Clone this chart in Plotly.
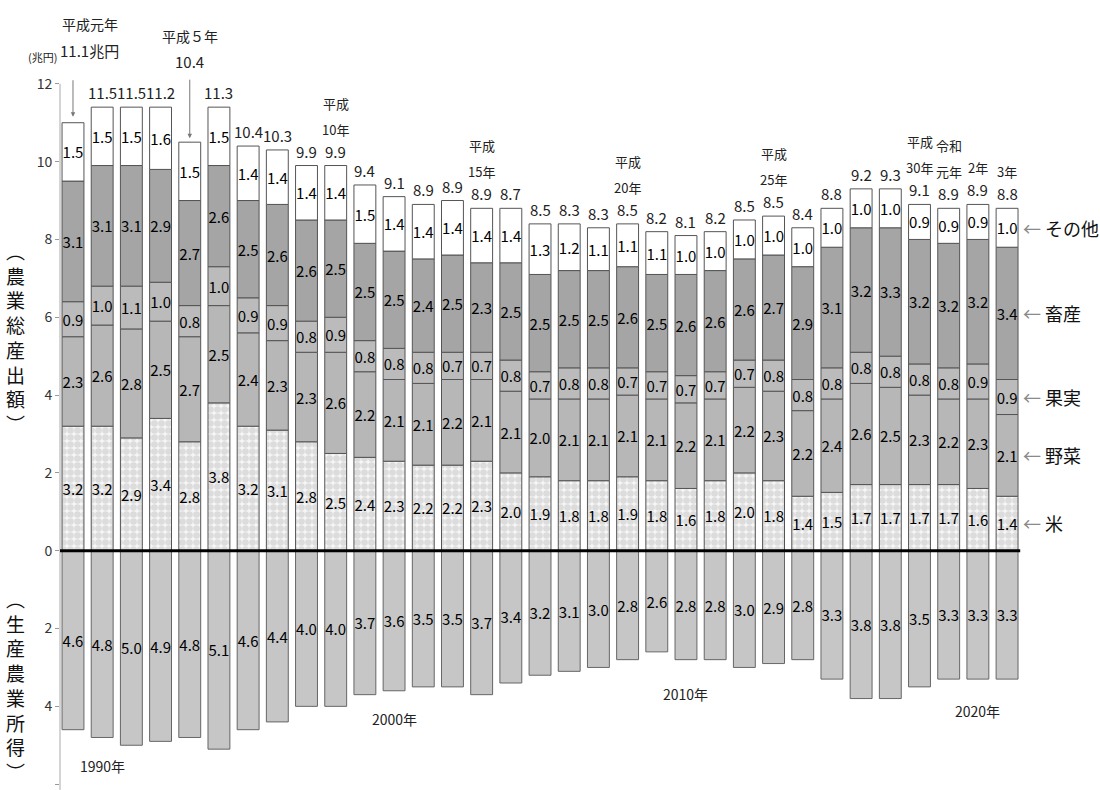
import plotly.graph_objects as go

# 農業総産出額と生産農業所得（兆円）
years = list(range(1989, 2022))

rice = [3.2, 3.2, 2.9, 3.4, 2.8, 3.8, 3.2, 3.1, 2.8, 2.5, 2.4, 2.3, 2.2, 2.2, 2.3, 2.0, 1.9,
        1.8, 1.8, 1.9, 1.8, 1.6, 1.8, 2.0, 1.8, 1.4, 1.5, 1.7, 1.7, 1.7, 1.7, 1.6, 1.4]
vegetables = [2.3, 2.6, 2.8, 2.5, 2.7, 2.5, 2.4, 2.3, 2.3, 2.6, 2.2, 2.1, 2.1, 2.2, 2.1, 2.1, 2.0,
              2.1, 2.1, 2.1, 2.1, 2.2, 2.1, 2.2, 2.3, 2.2, 2.4, 2.6, 2.5, 2.3, 2.2, 2.3, 2.1]
fruit = [0.9, 1.0, 1.1, 1.0, 0.8, 1.0, 0.9, 0.9, 0.8, 0.9, 0.8, 0.8, 0.8, 0.7, 0.7, 0.8, 0.7,
         0.8, 0.8, 0.7, 0.7, 0.7, 0.7, 0.7, 0.8, 0.8, 0.8, 0.8, 0.8, 0.8, 0.8, 0.9, 0.9]
livestock = [3.1, 3.1, 3.1, 2.9, 2.7, 2.6, 2.5, 2.6, 2.6, 2.5, 2.5, 2.5, 2.4, 2.5, 2.3, 2.5, 2.5,
             2.5, 2.5, 2.6, 2.5, 2.6, 2.6, 2.6, 2.7, 2.9, 3.1, 3.2, 3.3, 3.2, 3.2, 3.2, 3.4]
other = [1.5, 1.5, 1.5, 1.6, 1.5, 1.5, 1.4, 1.4, 1.4, 1.4, 1.5, 1.4, 1.4, 1.4, 1.4, 1.4, 1.3,
         1.2, 1.1, 1.1, 1.1, 1.0, 1.0, 1.0, 1.0, 1.0, 1.0, 1.0, 1.0, 0.9, 0.9, 0.9, 1.0]
totals = [11.1, 11.5, 11.5, 11.2, 10.4, 11.3, 10.4, 10.3, 9.9, 9.9, 9.4, 9.1, 8.9, 8.9, 8.9, 8.7,
          8.5, 8.3, 8.3, 8.5, 8.2, 8.1, 8.2, 8.5, 8.5, 8.4, 8.8, 9.2, 9.3, 9.1, 8.9, 8.9, 8.8]
income = [4.6, 4.8, 5.0, 4.9, 4.8, 5.1, 4.6, 4.4, 4.0, 4.0, 3.7, 3.6, 3.5, 3.5, 3.7, 3.4, 3.2,
          3.1, 3.0, 2.8, 2.6, 2.8, 2.8, 3.0, 2.9, 2.8, 3.3, 3.8, 3.8, 3.5, 3.3, 3.3, 3.3]

era_labels = {1998: ["平成", "10年"], 2003: ["平成", "15年"], 2008: ["平成", "20年"],
              2013: ["平成", "25年"], 2018: ["平成", "30年"], 2019: ["令和", "元年"],
              2020: ["2年"], 2021: ["3年"]}
decade_labels = {1990: "1990年", 2000: "2000年", 2010: "2010年", 2020: "2020年"}

FONT = "Noto Sans CJK JP"
EDGE = "#555555"
BAR_W = 0.75

fig = go.Figure()

segments = [
    ("米", rice, dict(color="#f2f2f2",
                     pattern=dict(shape=".", fgcolor="#c2c2c2", bgcolor="#f6f6f6",
                                  size=7, solidity=0.7))),
    ("野菜", vegetables, dict(color="#b7b7b7")),
    ("果実", fruit, dict(color="#bbbbbb")),
    ("畜産", livestock, dict(color="#a5a5a5")),
    ("その他", other, dict(color="#ffffff")),
]

for name, vals, mk in segments:
    mk = dict(mk)
    mk["line"] = dict(color=EDGE, width=1)
    fig.add_trace(go.Bar(
        x=years, y=vals, name=name, width=BAR_W, marker=mk,
        text=[f"{v:.1f}" for v in vals], textposition="inside",
        insidetextanchor="middle", textangle=0,
        textfont=dict(family=FONT, size=15, color="#000"),
        showlegend=False, hoverinfo="x+y",
    ))

# 生産農業所得は下向きに描く
fig.add_trace(go.Bar(
    x=years, y=[-v for v in income], name="生産農業所得", width=BAR_W,
    marker=dict(color="#c6c6c6", line=dict(color="#666666", width=1)),
    text=[f"{v:.1f}" for v in income], textposition="inside",
    insidetextanchor="middle", textangle=0,
    textfont=dict(family=FONT, size=15, color="#000"),
    showlegend=False, hoverinfo="x+text",
))

stack_top = [round(a + b + c + d + e, 1) for a, b, c, d, e in zip(rice, vegetables, fruit, livestock, other)]

ann = []
# 棒の上の合計値
for yr, top, tot in zip(years, stack_top, totals):
    if yr in (1989, 1993):
        continue
    ann.append(dict(x=yr, y=top, text=f"{tot:.1f}", showarrow=False, yanchor="bottom",
                    yshift=2, font=dict(family=FONT, size=15, color="#222")))
    if yr in era_labels:
        lines = era_labels[yr]
        for k, line in enumerate(reversed(lines)):
            ann.append(dict(x=yr, y=top, text=line, showarrow=False, yanchor="bottom",
                            yshift=25 + 26 * k, font=dict(family=FONT, size=13, color="#222")))

# 平成元年・平成５年の引出し
i89 = years.index(1989)
ann += [
    dict(x=1989, y=stack_top[i89], text=f"{totals[i89]:.1f}兆円", showarrow=False,
         yanchor="middle", yshift=72, xshift=17, font=dict(family=FONT, size=15, color="#222")),
    dict(x=1989, y=stack_top[i89], text="平成元年", showarrow=False,
         yanchor="middle", yshift=99, xshift=17, font=dict(family=FONT, size=14, color="#222")),
    dict(x=1989, y=stack_top[i89], text="", showarrow=True, ax=0, ay=-44, standoff=6,
         arrowhead=2, arrowsize=0.9, arrowwidth=1, arrowcolor="#777"),
]
i93 = years.index(1993)
ann += [
    dict(x=1993, y=stack_top[i93], text=f"{totals[i93]:.1f}", showarrow=False,
         yanchor="middle", yshift=81, font=dict(family=FONT, size=15, color="#222")),
    dict(x=1993, y=stack_top[i93], text="平成５年", showarrow=False,
         yanchor="middle", yshift=106, font=dict(family=FONT, size=14, color="#222")),
    dict(x=1993, y=stack_top[i93], text="", showarrow=True, ax=0, ay=-64, standoff=4,
         arrowhead=2, arrowsize=0.9, arrowwidth=1, arrowcolor="#777"),
]

# 西暦の目安
decade_shift = {1990: -29, 2000: -28, 2010: -34, 2020: -32}
for yr, label in decade_labels.items():
    i = years.index(yr)
    ann.append(dict(x=yr, y=-income[i], text=label, showarrow=False, yanchor="middle",
                    yshift=decade_shift[yr], font=dict(family=FONT, size=14, color="#222")))

# 右側の品目名（最終年の各区分の中央）
last = len(years) - 1
base = 0.0
for name, vals, _ in segments:
    center = base + vals[last] / 2
    base += vals[last]
    ann.append(dict(x=years[last] + BAR_W / 2, y=center, xanchor="left", yanchor="middle",
                    xshift=3, showarrow=False,
                    text=f'<span style="color:#8a8a8a">←</span> {name}',
                    font=dict(family=FONT, size=18, color="#111")))

# 縦書きの軸タイトルと単位
ann += [
    dict(xref="paper", x=0, xshift=-45, xanchor="center", y=5.5,
         text="<br>".join("︵農業総産出額︶"),
         showarrow=False, yanchor="middle", font=dict(family=FONT, size=19, color="#111")),
    dict(xref="paper", x=0, xshift=-45, xanchor="center", y=-3.45,
         text="<br>".join("︵生産農業所得︶"),
         showarrow=False, yanchor="middle", font=dict(family=FONT, size=19, color="#111")),
    dict(xref="paper", x=0, xshift=-18, xanchor="center", y=12, yshift=27, text="(兆円)",
         showarrow=False, font=dict(family=FONT, size=11, color="#222")),
]

x_left = 1988.555
fig.update_layout(
    width=1100, height=790,
    margin=dict(l=60, r=0, t=0, b=0),
    paper_bgcolor="white", plot_bgcolor="white",
    barmode="relative",
    font=dict(family=FONT, color="#222"),
    uniformtext=dict(minsize=14, mode="show"),
    xaxis=dict(range=[x_left, x_left + 1040 / 29.19], visible=False),
    yaxis=dict(range=[-6.15, 14.154], tickvals=[-6, -4, -2, 0, 2, 4, 6, 8, 10, 12],
               ticktext=["6", "4", "2", "0", "2", "4", "6", "8", "10", "12"],
               showgrid=False, zeroline=False, showline=False,
               ticks="outside", ticklen=4, tickcolor="#999",
               tickfont=dict(family=FONT, size=14, color="#333")),
    annotations=ann,
    shapes=[
        dict(type="line", xref="paper", x0=0, x1=0, yref="y", y0=-6.3, y1=12,
             line=dict(color="#aaaaaa", width=1)),
        dict(type="line", xref="x", x0=x_left, x1=years[-1] + 0.45, yref="y", y0=0, y1=0,
             line=dict(color="#000", width=3)),
    ],
)

fig.write_html("out.html")
